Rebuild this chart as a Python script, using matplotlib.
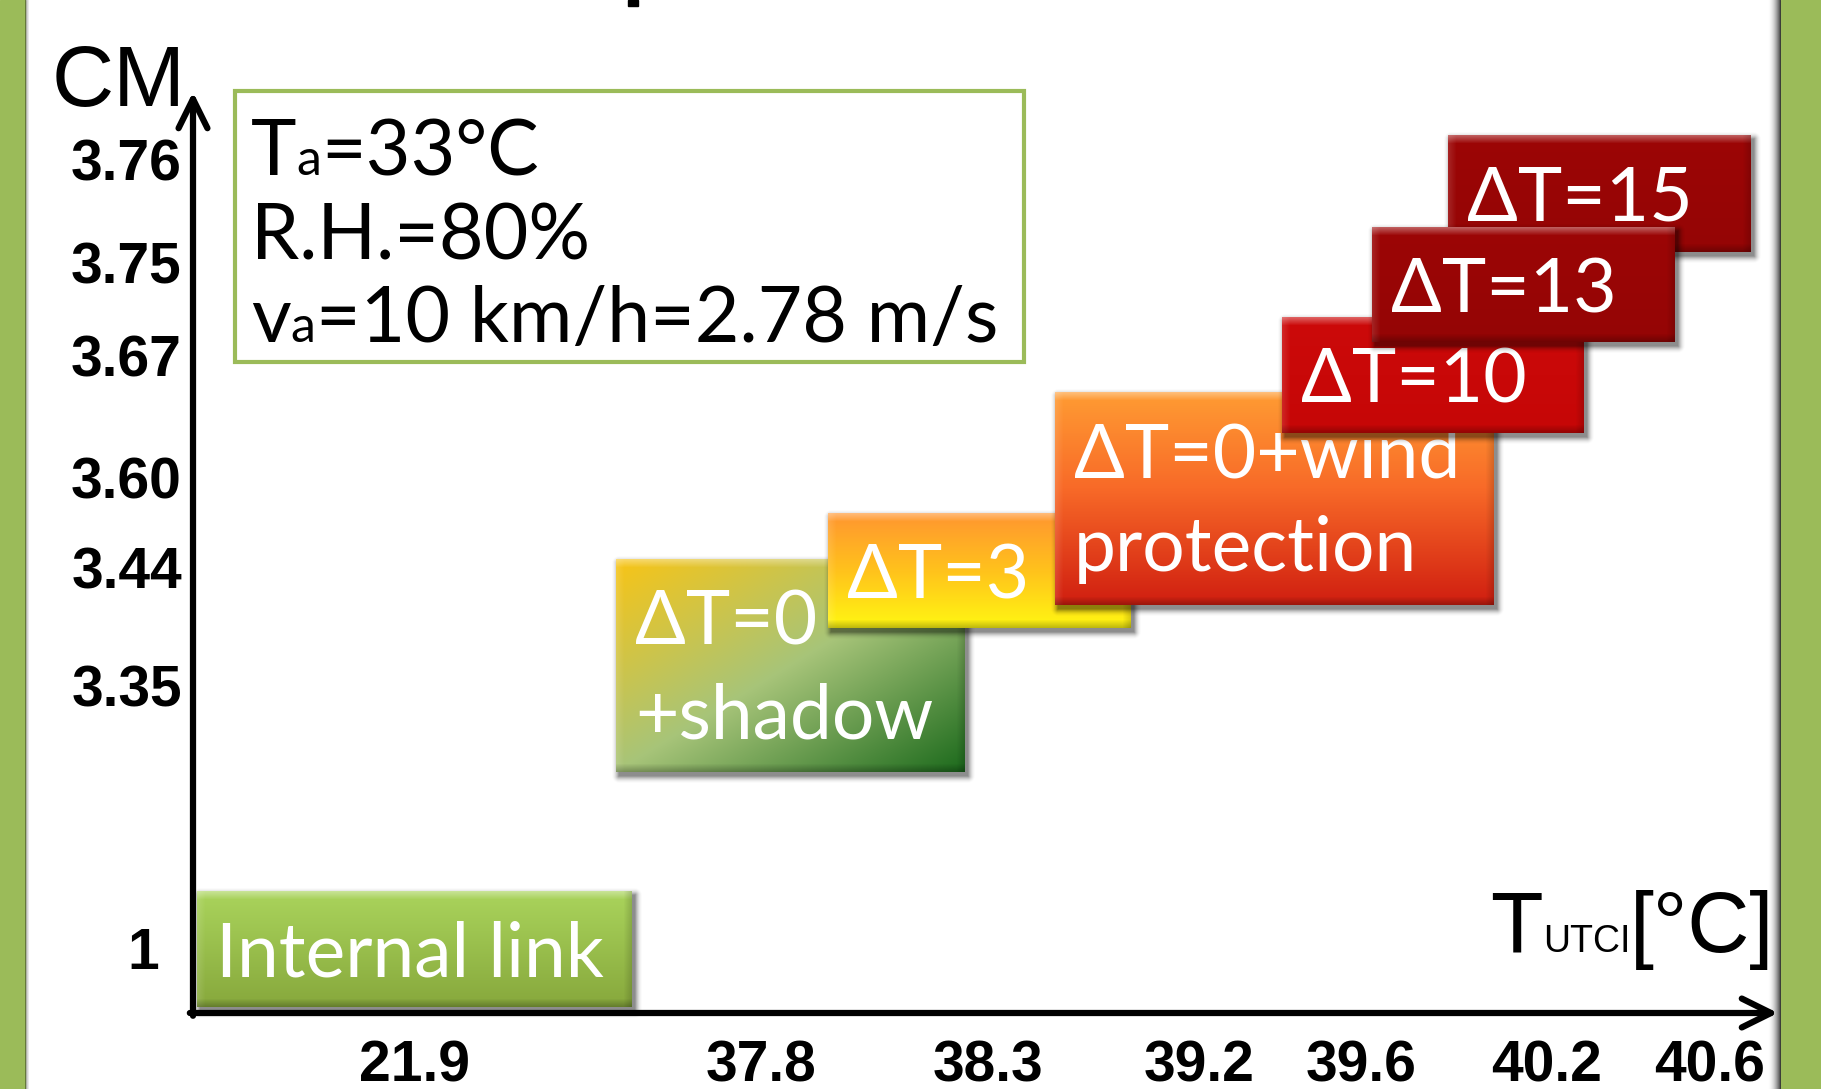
import numpy as np
import matplotlib.pyplot as plt
import matplotlib.colors as mcolors
import matplotlib.transforms as mtransforms
from matplotlib.patches import Rectangle

W, H = 1821, 1089

# data
box_labels = ['Internal link', 'ΔT=0\n+shadow', 'ΔT=3', 'ΔT=0+wind\nprotection',
              'ΔT=10', 'ΔT=13', 'ΔT=15']
t_utci = [21.9, 37.8, 38.3, 39.2, 39.6, 40.2, 40.6]
cm = [1, 3.35, 3.44, 3.60, 3.67, 3.75, 3.76]
x_ticklabels = ['21.9', '37.8', '38.3', '39.2', '39.6', '40.2', '40.6']
y_ticklabels = ['1', '3.35', '3.44', '3.60', '3.67', '3.75', '3.76']
conditions = [[('T', 'big'), ('a', 'sub'), ('=33°C', 'big')],
              [('R.H.=80%', 'big')],
              [('v', 'big'), ('a', 'sub'), ('=10 km/h=2.78 m/s', 'big')]]

# layout: pixel position of each tick (schematic, not linear)
x_slots = [415, 761, 988, 1199, 1361, 1547, 1710]
y_slots = [948, 685, 567, 477, 355, 262, 159]
# box left/top offset from its tick anchor, width, height
box_geom = [(-218, -57, 435, 116), (-145, -126, 349, 213), (-160, -54, 303, 115),
            (-144, -85, 439, 213), (-79, -38, 302, 116), (-175, -35, 303, 115),
            (-262, -24, 303, 117)]
box_fill = [('v', [(0, '#aad45c'), (1, '#87a83c')]),
            ('d', [(0, '#f8c416'), (0.5, '#a7c479'), (1, '#1c6a1c')]),
            ('v', [(0, '#ff9630'), (0.5, '#ffc21c'), (1, '#fff712')]),
            ('v', [(0, '#ff9c33'), (0.45, '#f86a28'), (1, '#d01e10')]),
            ('v', [(0, '#cc0a0a'), (1, '#c60606')]),
            ('v', [(0, '#9c0606'), (1, '#950505')]),
            ('v', [(0, '#9c0606'), (1, '#950505')])]
draw_order = [0, 1, 2, 3, 4, 6, 5]
green = '#9bbb59'
box_font = ['Lato', 'DejaVu Sans']


def pw(v, xs, ys):
    # piecewise linear with linear extrapolation at both ends
    v = np.asarray(v, dtype=float)
    xs = np.asarray(xs, dtype=float)
    ys = np.asarray(ys, dtype=float)
    out = np.interp(v, xs, ys)
    lo = ys[0] + (v - xs[0]) * (ys[1] - ys[0]) / (xs[1] - xs[0])
    hi = ys[-1] + (v - xs[-1]) * (ys[-1] - ys[-2]) / (xs[-1] - xs[-2])
    out = np.where(v < xs[0], lo, out)
    out = np.where(v > xs[-1], hi, out)
    return out


def gradient(h, w, kind, stops):
    yy, xx = np.mgrid[0:h, 0:w].astype(float)
    if kind == 'v':
        t = yy / (h - 1)
    else:
        t = (xx / (w - 1) + yy / (h - 1)) / 2
    pos = [s[0] for s in stops]
    cols = np.array([mcolors.to_rgb(s[1]) for s in stops])
    img = np.stack([np.interp(t, pos, cols[:, k]) for k in range(3)], axis=-1)
    e = 8.0
    top = np.clip(1 - yy / e, 0, 1)[..., None]
    bot = np.clip(1 - (h - 1 - yy) / e, 0, 1)[..., None]
    lef = np.clip(1 - xx / e, 0, 1)[..., None]
    rig = np.clip(1 - (w - 1 - xx) / e, 0, 1)[..., None]
    img = img + (1 - img) * 0.35 * top
    img = img + (1 - img) * 0.12 * lef
    img = img * (1 - 0.25 * bot)
    img = img * (1 - 0.15 * rig)
    return np.clip(img, 0, 1)


def shadow(h, w, blur=8, alpha=0.45):
    yy, xx = np.mgrid[-blur:h + blur, -blur:w + blur].astype(float) + 0.5
    dx = np.maximum(np.maximum(-xx, xx - w), 0)
    dy = np.maximum(np.maximum(-yy, yy - h), 0)
    d = np.hypot(dx, dy)
    rgba = np.zeros((h + 2 * blur, w + 2 * blur, 4))
    rgba[..., 3] = alpha * np.clip(1 - d / blur, 0, 1) ** 2
    return rgba


fig = plt.figure(figsize=(W / 100, H / 100), dpi=100)
pix = fig.add_axes([0, 0, 1, 1])
pix.set_axis_off()

# plot axes: tick values mapped to their schematic positions
x0, x1, y_bot, y_top = 193, 1778, 1013, 92
ax = fig.add_axes([x0 / W, (H - y_bot) / H, (x1 - x0) / W, (y_bot - y_top) / H])
ax.patch.set_alpha(0)
ys_b = [H - y for y in y_slots]
ax.set_xscale('function', functions=(lambda v: pw(v, t_utci, x_slots),
                                     lambda p: pw(p, x_slots, t_utci)))
ax.set_yscale('function', functions=(lambda v: pw(v, cm, ys_b),
                                     lambda p: pw(p, ys_b, cm)))
ax.set_xlim(pw(x0, x_slots, t_utci), pw(x1, x_slots, t_utci))
ax.set_ylim(pw(H - y_bot, ys_b, cm), pw(H - y_top, ys_b, cm))
ax.set_xticks(t_utci, x_ticklabels)
ax.set_yticks(cm, y_ticklabels)
ax.minorticks_off()
for s in ax.spines.values():
    s.set_visible(False)
ax.tick_params(length=0, labelsize=41)
ax.tick_params(axis='x', pad=19)
ax.tick_params(axis='y', pad=8)
for lab in ax.get_xticklabels() + ax.get_yticklabels():
    lab.set_fontfamily('Liberation Sans')
    lab.set_fontweight('bold')
one = ax.get_yticklabels()[0]
one.set_transform(one.get_transform() + mtransforms.Affine2D().translate(-23, 0))

arrow = dict(arrowstyle='->,head_length=1.05,head_width=0.52', lw=4.5, color='black',
             shrinkA=0, shrinkB=0, mutation_scale=20)
ax.annotate('', xy=(1, 0), xytext=(-0.002, 0), xycoords='axes fraction', arrowprops=arrow)
ax.annotate('', xy=(0, 1), xytext=(0, -0.003), xycoords='axes fraction', arrowprops=arrow)

# slide frame
pix.add_patch(Rectangle((0, 0), 25, H, color=green, zorder=1))
pix.add_patch(Rectangle((1781, 0), W - 1781, H, color=green, zorder=1))
right_sh = np.zeros((1, 14, 4))
right_sh[..., 3] = np.linspace(0, 1, 14) ** 2 * 0.75
pix.imshow(right_sh, extent=(1767, 1781, H, 0), aspect='auto', zorder=1)
left_sh = np.zeros((1, 5, 4))
left_sh[..., 3] = np.linspace(0.35, 0, 5)
pix.imshow(left_sh, extent=(25, 30, H, 0), aspect='auto', zorder=1)
pix.add_patch(Rectangle((628, 0), 10, 6, color='black', zorder=1))

# conditions box
pix.add_patch(Rectangle((235, 91), 789, 271, facecolor='white', edgecolor=green,
                        lw=3, zorder=2))
renderer = fig.canvas.get_renderer()
sizes = {'big': 55.5, 'sub': 36}
for line, base in zip(conditions, [175, 260, 342]):
    x = 251
    for s, kind in line:
        t = pix.text(x, base, s, fontsize=sizes[kind], family=['Lato', 'DejaVu Sans'],
                     va='baseline', ha='left', zorder=3)
        x += t.get_window_extent(renderer=renderer).width

# boxes anchored at (T_UTCI, CM)
for k, i in enumerate(draw_order):
    px, py = ax.transData.transform((t_utci[i], cm[i]))
    dx, dy, w, h = box_geom[i]
    left, top = px + dx, (H - py) + dy
    z = 10 + 3 * k
    sh = shadow(h, w)
    pix.imshow(sh, extent=(left + 3 - 8, left + 3 + w + 8, top + 4 + h + 8, top + 4 - 8),
               aspect='auto', zorder=z)
    kind, stops = box_fill[i]
    pix.imshow(gradient(h, w, kind, stops), extent=(left, left + w, top + h, top),
               aspect='auto', interpolation='bilinear', zorder=z + 1)
    for j, txt in enumerate(box_labels[i].split('\n')):
        pix.text(left + 19, top + 85 + 94 * j, txt, color='white', fontsize=54,
                 family=box_font, va='baseline', ha='left', zorder=z + 2)

# axis titles
pix.text(52, 106, 'CM', fontsize=62, family='Liberation Sans', va='baseline', zorder=3)
x = 1490
for s, size in [('T', 62), ('UTCI', 27), ('[°C]', 62)]:
    t = pix.text(x, 952, s, fontsize=size, family='Liberation Sans', va='baseline', zorder=3)
    x += t.get_window_extent(renderer=renderer).width

pix.set_xlim(0, W)
pix.set_ylim(H, 0)

fig.savefig('out.png', dpi=100)
